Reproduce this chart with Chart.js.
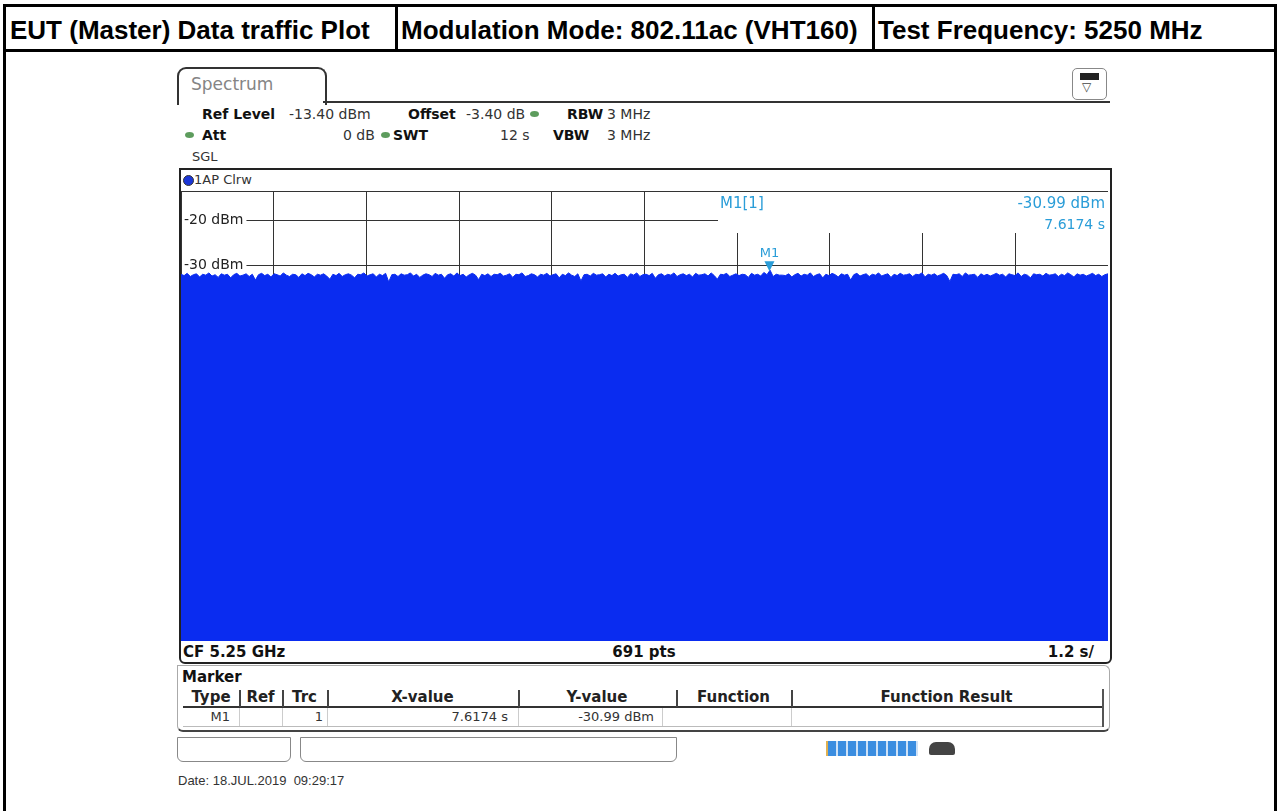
<!DOCTYPE html>
<html lang="en">
<head>
    <meta charset="UTF-8">
    <title>EUT (Master) Data traffic Plot</title>
    <script src="https://cdn.jsdelivr.net/npm/chart.js"></script>
    <style>
        body { margin: 0; width: 1280px; height: 811px; background: #fff; position: relative; overflow: hidden; font-family: "DejaVu Sans", sans-serif; }
        .abs { position: absolute; white-space: nowrap; }
        .line { position: absolute; background: #000; }
        .head { position: absolute; top: 15px; height: 36px; line-height: 36px; font: bold 26px "Liberation Sans", Arial, sans-serif; color: #000; }
        .info { position: absolute; font-size: 14px; line-height: 18px; color: #333; white-space: nowrap; }
        .info b { color: #111; }
        .dot { position: absolute; width: 9px; height: 6px; border-radius: 50%; background: #5d9c5d; }
        .cell { position: absolute; font-size: 15px; line-height: 18px; white-space: nowrap; color: #222; }
    </style>
</head>
<body>
    <!-- report table frame -->
    <div class="line" style="left:3px;top:4px;width:1274px;height:3px"></div>
    <div class="line" style="left:3px;top:49px;width:1274px;height:3px"></div>
    <div class="line" style="left:3px;top:4px;width:3px;height:807px"></div>
    <div class="line" style="left:395px;top:4px;width:3px;height:46px"></div>
    <div class="line" style="left:872px;top:4px;width:3px;height:46px"></div>
    <div class="line" style="left:1274px;top:4px;width:3px;height:807px"></div>
    <div class="head" style="left:10px">EUT (Master) Data traffic Plot</div>
    <div class="head" style="left:401px">Modulation Mode: 802.11ac (VHT160)</div>
    <div class="head" style="left:878px">Test Frequency: 5250 MHz</div>

    <!-- analyzer tab -->
    <div class="abs" style="left:177px;top:67px;width:146px;height:36px;border:2px solid #333;border-bottom:none;border-radius:9px 9px 0 0;"></div>
    <div class="abs" style="left:191px;top:74px;font-size:17px;color:#858585">Spectrum</div>
    <div class="line" style="left:323px;top:101px;width:787px;height:2px;background:#333"></div>
    <div class="abs" style="left:1072px;top:68px;width:33px;height:30px;border:1.5px solid #888;border-radius:5px;"></div>
    <div class="abs" style="left:1080px;top:73px;width:17px;height:5px;background:#222;border:1px solid #222"></div>
    <div class="abs" style="left:1082px;top:80px;font-size:12px;color:#444">&#9661;</div>

    <!-- setting lines -->
    <div class="info" style="left:202px;top:105px"><b>Ref Level</b></div>
    <div class="info" style="left:289px;top:105px">-13.40 dBm</div>
    <div class="info" style="left:408px;top:105px"><b>Offset</b></div>
    <div class="info" style="left:466px;top:105px">-3.40 dB</div>
    <div class="dot" style="left:530px;top:111px"></div>
    <div class="info" style="left:567px;top:105px"><b>RBW</b></div>
    <div class="info" style="left:607px;top:105px">3 MHz</div>
    <div class="dot" style="left:185px;top:132px"></div>
    <div class="info" style="left:202px;top:126px"><b>Att</b></div>
    <div class="info" style="left:343px;top:126px">0 dB</div>
    <div class="dot" style="left:381px;top:132px"></div>
    <div class="info" style="left:393px;top:126px"><b>SWT</b></div>
    <div class="info" style="left:500px;top:126px">12 s</div>
    <div class="info" style="left:553px;top:126px"><b>VBW</b></div>
    <div class="info" style="left:607px;top:126px">3 MHz</div>
    <div class="info" style="left:192px;top:148px;font-size:13px">SGL</div>

    <!-- trace window -->
    <div class="abs" style="left:179px;top:168px;width:929px;height:492px;border:2px solid #222;border-radius:0 0 6px 6px;"></div>
    <div class="abs" style="left:183px;top:175px;width:9px;height:9px;border-radius:50%;background:#1b36d8;border:1px solid #333"></div>
    <div class="info" style="left:194px;top:171px;font-size:13px">1AP Clrw</div>
    <canvas id="spectrumChart" width="927" height="450" style="position:absolute;left:181px;top:191px"></canvas>
    <div class="info" style="left:183px;top:643px;font-size:15px"><b>CF 5.25 GHz</b></div>
    <div class="info" style="left:594px;top:643px;width:100px;text-align:center;font-size:15px"><b>691 pts</b></div>
    <div class="info" style="left:994px;top:643px;width:100px;text-align:right;font-size:15px"><b>1.2 s/</b></div>

    <!-- marker table -->
    <div class="abs" style="left:177px;top:665px;width:931px;height:64px;border:1px solid #aaa;border-bottom:2px solid #444;border-radius:0 6px 6px 6px;"></div>
    <div class="info" style="left:182px;top:668px;font-size:15px"><b>Marker</b></div>
    <div class="line" style="left:183px;top:706px;width:920px;height:2px;background:#333"></div>
    <div class="line" style="left:183px;top:726px;width:920px;height:1px;background:#bbb"></div>
    <div class="line" style="left:1102px;top:689px;width:2px;height:38px;background:#555"></div>
    <div id="markerTable"></div>

    <!-- status bar -->
    <div class="abs" style="left:177px;top:737px;width:112px;height:23px;border:1.5px solid #888;border-radius:0 0 6px 6px;"></div>
    <div class="abs" style="left:300px;top:737px;width:375px;height:23px;border:1.5px solid #888;border-radius:0 0 6px 6px;"></div>
    <div class="abs" style="left:826px;top:741px;width:90px;height:15px;border-left:2px solid #e0b050;background:repeating-linear-gradient(90deg,#3a8de0 0,#3a8de0 8px,#cfe2f7 8px,#cfe2f7 10px);"></div>
    <div class="abs" style="left:929px;top:742px;width:26px;height:13px;background:#444;border-radius:7px 7px 2px 2px"></div>
    <div class="abs" style="left:178px;top:773px;font:13px 'Liberation Sans',Arial,sans-serif;color:#333">Date: 18.JUL.2019&nbsp; 09:29:17</div>

    <script>
        // sweep settings
        const sweepTime = 12;
        const refLevel = -13.4;
        const rangeDb = 100;
        const xGrid = [0, 1.2, 2.4, 3.6, 4.8, 6, 7.2, 8.4, 9.6, 10.8, 12];
        const yGrid = [-13.4, -20, -30, -40, -50, -60, -70, -80, -90, -100, -110];
        const yLabels = [-20, -30];

        // trace 1 (dBm)
        const traceValues = [
            -31.9,-32.2,-31.7,-32.4,-32.0,-31.8,-32.5,-31.9,-32.1,-31.6,-32.3,-32.0,-32.6,-31.8,-32.1,-31.9,-32.7,-32.0,-31.7,-32.3,
            -32.1,-31.8,-32.4,-31.9,-33.2,-32.0,-31.7,-32.2,-31.9,-32.5,-31.8,-32.0,-32.3,-31.6,-32.1,-32.4,-31.9,-32.0,-32.6,-31.8,
            -32.2,-31.7,-32.0,-32.5,-31.9,-32.1,-31.8,-32.3,-33.0,-31.9,-32.2,-31.7,-32.4,-32.0,-31.8,-32.1,-32.7,-31.9,-32.0,-31.6,
            -32.3,-32.0,-31.8,-32.5,-31.9,-32.2,-31.7,-33.6,-32.0,-31.9,-32.4,-31.8,-32.1,-32.0,-31.6,-32.3,-31.9,-32.6,-32.1,-31.8,
            -32.0,-32.4,-31.7,-32.1,-31.9,-32.8,-32.0,-31.8,-32.3,-31.6,-32.2,-31.9,-32.5,-32.0,-31.7,-32.1,-33.1,-31.9,-32.2,-31.8,
            -32.4,-31.9,-32.0,-31.7,-32.3,-32.1,-31.8,-32.6,-31.9,-32.0,-31.6,-32.4,-32.2,-31.8,-32.0,-32.5,-31.9,-32.1,-31.7,-32.3,
            -32.0,-31.8,-32.7,-31.9,-32.2,-31.6,-32.1,-32.4,-31.8,-33.4,-32.0,-31.9,-32.3,-31.7,-32.1,-32.0,-31.8,-32.5,-31.9,-32.2,
            -31.7,-32.3,-32.0,-31.9,-32.6,-31.8,-32.1,-31.6,-32.4,-32.0,-31.9,-32.2,-31.7,-32.8,-32.0,-31.8,-32.3,-31.9,-32.1,-31.6,
            -32.4,-32.0,-31.8,-32.2,-31.9,-32.5,-31.7,-32.1,-32.0,-31.8,-32.3,-31.6,-32.2,-33.0,-31.9,-32.0,-31.7,-32.4,-32.1,-31.8,
            -32.2,-31.9,-32.0,-32.6,-31.7,-32.1,-31.9,-32.3,-31.5,-32.0,-31.0,-32.4,-31.9,-32.1,-32.1,-32.2,-31.8,-32.5,-32.0,-31.7,
            -32.3,-31.9,-32.1,-31.6,-32.4,-32.0,-31.8,-32.7,-31.9,-32.2,-31.7,-32.0,-32.5,-31.8,-32.1,-31.9,-33.2,-32.0,-31.7,-32.3,
            -32.0,-31.8,-32.4,-31.9,-32.1,-31.6,-32.3,-32.0,-31.8,-32.6,-31.9,-32.2,-31.7,-32.1,-32.0,-31.8,-32.4,-31.9,-32.0,-31.6,
            -32.5,-31.9,-32.1,-31.8,-32.3,-32.0,-31.7,-32.2,-33.5,-31.9,-32.0,-31.8,-32.4,-31.6,-32.1,-32.0,-31.9,-32.6,-31.8,-32.2,
            -31.9,-32.3,-32.0,-31.7,-32.1,-31.9,-32.5,-31.8,-32.0,-32.2,-31.6,-32.4,-31.9,-32.1,-32.7,-31.8,-32.0,-31.9,-32.3,-31.7,
            -32.1,-32.0,-31.8,-32.4,-31.9,-32.2,-31.6,-32.0,-32.5,-31.8,-32.1,-31.9,-32.3,-32.0,-31.7,-32.2,-31.9,-32.4,-32.0,-31.8
        ];

        // marker M1
        const markerName = "M1";
        const markerX = 7.6174;
        const markerY = -30.99;

        const traceColor = "#0a2cf0";
        const markerColor = "#2a9dd8";

        // marker table under the plot
        const cols = [
            { name: "Type", l: 183, r: 239 }, { name: "Ref", l: 239, r: 282 }, { name: "Trc", l: 282, r: 327 },
            { name: "X-value", l: 327, r: 518 }, { name: "Y-value", l: 518, r: 676 },
            { name: "Function", l: 676, r: 791 }, { name: "Function Result", l: 791, r: 1102 }
        ];
        const rowVals = [markerName, "", "1", markerX.toFixed(4) + " s", markerY.toFixed(2) + " dBm", "", ""];
        const rowRight = [230, 0, 323, 508, 654, 0, 0];
        const rowDiv = [239, 282, 327, 518, 662, 791, 791];
        let html = "";
        cols.forEach((c, i) => {
            html += '<div class="cell" style="left:' + c.l + 'px;top:688px;width:' + (c.r - c.l) + 'px;text-align:center"><b>' + c.name + '</b></div>';
            if (i < cols.length - 1) {
                html += '<div class="line" style="left:' + c.r + 'px;top:690px;width:1.5px;height:17px;background:#444"></div>';
                html += '<div class="line" style="left:' + rowDiv[i] + 'px;top:708px;width:1px;height:18px;background:#ccc"></div>';
            }
            if (rowVals[i]) {
                html += '<div class="cell" style="left:' + (rowRight[i] - 120) + 'px;top:708px;width:120px;text-align:right;font-size:13px;color:#333">' + rowVals[i] + '</div>';
            }
        });
        document.getElementById("markerTable").innerHTML = html;

        const spectrumOverlay = {
            id: "spectrumOverlay",
            beforeDatasetsDraw(chart) {
                const { ctx, chartArea, scales: { x, y } } = chart;
                ctx.save();
                // marker readout box hides the grid behind it
                ctx.fillStyle = "#fff";
                ctx.fillRect(chartArea.right - 390, chartArea.top + 1, 390, 41);
                ctx.font = "14px 'DejaVu Sans'";
                ctx.textBaseline = "middle";
                yLabels.forEach(v => {
                    const py = y.getPixelForValue(v);
                    const txt = v + " dBm";
                    const w = ctx.measureText(txt).width;
                    ctx.fillStyle = "#fff";
                    ctx.fillRect(chartArea.left + 1, py - 2, w + 5, 4);
                    ctx.fillStyle = "#222";
                    ctx.fillText(txt, chartArea.left + 3, py);
                });
                ctx.fillStyle = markerColor;
                ctx.textAlign = "left";
                ctx.font = "15px 'DejaVu Sans'";
                ctx.fillText(markerName + "[1]", chartArea.right - 388, chartArea.top + 13);
                ctx.textAlign = "right";
                ctx.fillText(markerY.toFixed(2) + " dBm", chartArea.right - 3, chartArea.top + 13);
                ctx.font = "14px 'DejaVu Sans'";
                ctx.fillText(markerX.toFixed(4) + " s", chartArea.right - 3, chartArea.top + 34);
                ctx.restore();
            },
            afterDatasetsDraw(chart) {
                const { ctx, scales: { x, y } } = chart;
                const px = x.getPixelForValue(markerX);
                const py = y.getPixelForValue(markerY);
                ctx.save();
                ctx.fillStyle = markerColor;
                ctx.beginPath();
                ctx.moveTo(px - 5, py - 9);
                ctx.lineTo(px + 5, py - 9);
                ctx.lineTo(px, py + 1);
                ctx.closePath();
                ctx.fill();
                ctx.font = "13px 'DejaVu Sans'";
                ctx.textAlign = "center";
                ctx.textBaseline = "alphabetic";
                ctx.fillText(markerName, px, py - 13);
                ctx.restore();
            }
        };

        const ctx = document.getElementById("spectrumChart").getContext("2d");
        new Chart(ctx, {
            type: "line",
            data: {
                datasets: [{
                    data: traceValues.map((v, i) => ({ x: i * sweepTime / (traceValues.length - 1), y: v })),
                    borderColor: traceColor,
                    backgroundColor: traceColor,
                    borderWidth: 1,
                    pointRadius: 0,
                    fill: "start",
                    tension: 0
                }]
            },
            options: {
                responsive: false,
                animation: false,
                layout: { padding: 0 },
                plugins: { legend: { display: false }, tooltip: { enabled: false } },
                scales: {
                    x: {
                        type: "linear", min: 0, max: sweepTime,
                        afterBuildTicks: s => { s.ticks = xGrid.map(v => ({ value: v })); },
                        ticks: { display: false },
                        grid: { color: "#333", drawTicks: false },
                        border: { display: false }
                    },
                    y: {
                        type: "linear", min: refLevel - rangeDb, max: refLevel,
                        afterBuildTicks: s => { s.ticks = yGrid.map(v => ({ value: v })); },
                        ticks: { display: false },
                        grid: { color: "#333", drawTicks: false },
                        border: { display: false }
                    }
                }
            },
            plugins: [spectrumOverlay]
        });
    </script>
</body>
</html>
